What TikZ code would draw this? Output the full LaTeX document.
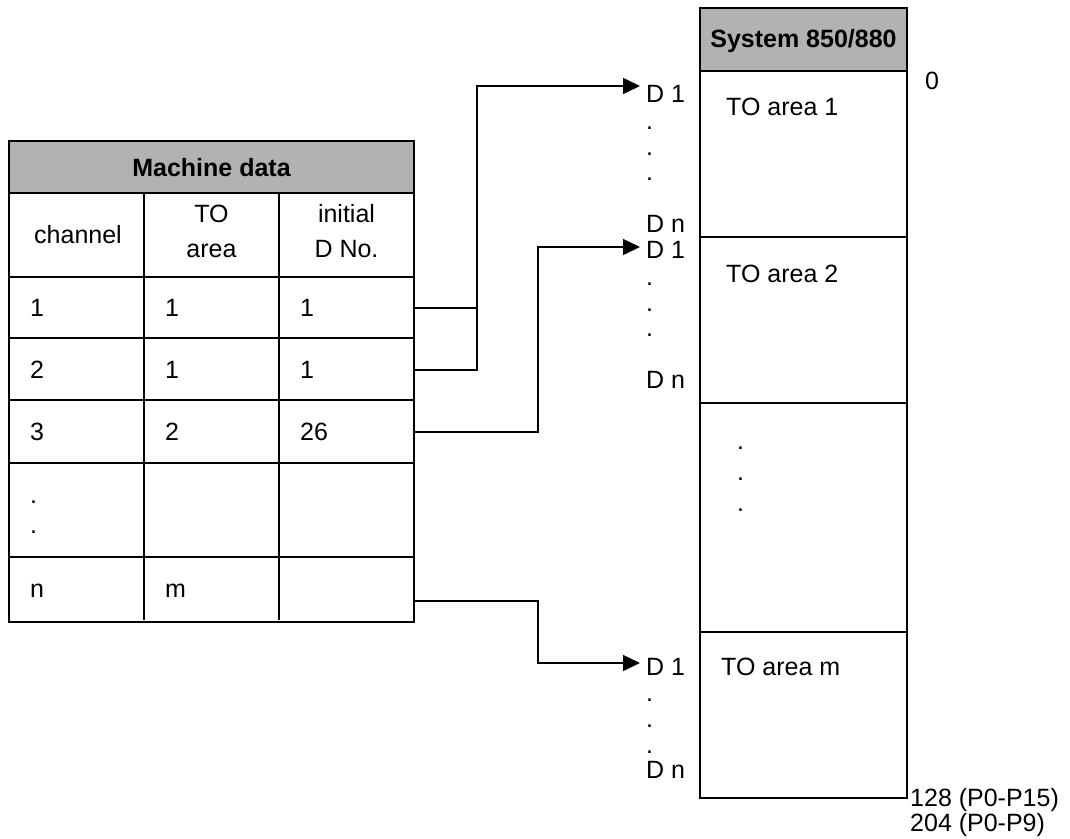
\documentclass[tikz,border=0pt]{standalone}
\usepackage{fontspec}
\setmainfont{Liberation Sans}
\usetikzlibrary{arrows.meta}
\begin{document}
\begin{tikzpicture}[x=1pt,y=-1pt,
  ln/.style={line width=1.5pt},
  hdrbox/.style={fill=black!30, draw=black, line width=1.5pt},
  txt/.style={font=\fontsize{25}{35}\selectfont, inner sep=0pt, anchor=base west},
  btxt/.style={font=\fontsize{25}{35}\selectfont\bfseries, inner sep=0pt, anchor=base},
  ctxt/.style={font=\fontsize{25}{35}\selectfont, inner sep=0pt, align=center},
  arr/.style={line width=1.5pt, -{Triangle[length=17pt,width=16pt]}},
]
\useasboundingbox (0,0) rectangle (1070,838);

% ---------- Machine data table ----------
\draw[hdrbox] (9,141) rectangle (414,193);
\node[btxt] (mdh) at (211.5,176) {Machine data};
\draw[ln] (9,193) rectangle (414,622);
\foreach \y in {277,338,400,463,557} \draw[ln] (9,\y) -- (414,\y);
\draw[ln] (144,193) -- (144,620) (279,193) -- (279,620);

\node[txt, anchor=base] (hch) at (78,243) {channel};
\node[ctxt] (hto) at (211.5,231) {TO\\area};
\node[ctxt] (hdn) at (346.5,231) {initial\\D No.};

\node[txt] (r1a) at (30,316) {1};
\node[txt] (r1b) at (165,316) {1};
\node[txt] (r1c) at (300,316) {1};
\node[txt] (r2a) at (30,378) {2};
\node[txt] (r2b) at (165,378) {1};
\node[txt] (r2c) at (300,378) {1};
\node[txt] (r3a) at (30,440) {3};
\node[txt] (r3b) at (165,440) {2};
\node[txt] (r3c) at (300,440) {26};
\node[txt] (rda) at (30,503) {.};
\node[txt] (rdb) at (30,533) {.};
\node[txt] (rna) at (30,597) {n};
\node[txt] (rnb) at (165,597) {m};

% ---------- System 850/880 column ----------
\draw[hdrbox] (700,8) rectangle (907,71);
\node[btxt] (sys) at (803.5,47) {System 850/880};
\draw[ln] (700,71) rectangle (907,798);
\foreach \y in {237,403,632} \draw[ln] (700,\y) -- (907,\y);

\node[txt] (ta1) at (726,115) {TO area 1};
\node[txt] (ta2) at (726,282) {TO area 2};
\node[txt] (tam) at (721,675) {TO area m};
\node[txt] (md1) at (737,449) {.};
\node[txt] (md2) at (737,480) {.};
\node[txt] (md3) at (737,511) {.};

\node[txt] (zero) at (925,89) {0};
\node[txt] (b128) at (910,806) {128 (P0-P15)};
\node[txt] (b204) at (910,831) {204 (P0-P9)};

% ---------- D labels ----------
\node[txt] (da1) at (646,102) {D 1};
\node[txt] (da2) at (646,129) {.};
\node[txt] (da3) at (646,155) {.};
\node[txt] (da4) at (646,180) {.};
\node[txt] (dan) at (646,232) {D n};

\node[txt] (db1) at (646,258) {D 1};
\node[txt] (db2) at (646,285) {.};
\node[txt] (db3) at (646,311) {.};
\node[txt] (db4) at (646,336) {.};
\node[txt] (dbn) at (646,388) {D n};

\node[txt] (dc1) at (646,675) {D 1};
\node[txt] (dc2) at (646,701) {.};
\node[txt] (dc3) at (646,727) {.};
\node[txt] (dc4) at (646,753) {.};
\node[txt] (dcn) at (646,778) {D n};

% ---------- connectors ----------
\coordinate (c1) at (414,308);
\coordinate (c2) at (414,370);
\coordinate (c3) at (414,432);
\coordinate (cn) at (414,601);
\coordinate (t1) at (640,86);
\coordinate (t2) at (640,247);
\coordinate (t3) at (640,663);

\draw[arr] (c1) -- (477,308) |- (t1);
\draw[ln] (c2) -| (477,308);
\draw[arr] (c3) -- (538,432) |- (t2);
\draw[arr] (cn) -- (538,601) |- (t3);
\end{tikzpicture}
\end{document}
